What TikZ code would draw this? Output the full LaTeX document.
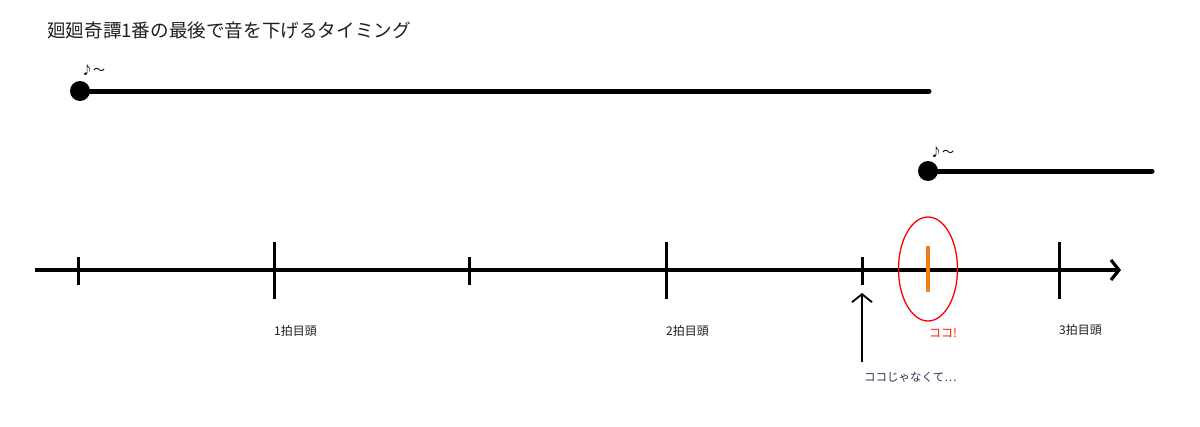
\documentclass[tikz,border=0pt]{standalone}
\usepackage{fontspec}
\newfontfamily\jp{Noto Sans CJK JP}
\usetikzlibrary{arrows.meta,shapes.geometric}
\definecolor{orangetick}{RGB}{240,125,30}
\definecolor{txt}{RGB}{30,30,30}
\definecolor{bluish}{RGB}{45,55,85}
\tikzset{
  phrase/.style={line width=5pt, line cap=round},
  dot/.style={circle, fill=black, inner sep=0pt, minimum size=20pt},
  smalltick/.style={line width=3pt},
  bigtick/.style={line width=3pt},
  lbl/.style={font=\jp\fontsize{12pt}{14pt}\selectfont, text=txt, inner sep=0pt, anchor=west},
  note/.style={font=\jp\fontsize{12pt}{14pt}\selectfont, inner sep=0pt, anchor=west}
}
\begin{document}
\begin{tikzpicture}[x=1pt,y=-1pt]
\useasboundingbox (0,0) rectangle (1200,426);
% title
\node[font=\jp\fontsize{18.6pt}{22pt}\selectfont, text=txt, inner sep=0pt, anchor=west] (title) at (47,30) {廻廻奇譚1番の最後で音を下げるタイミング};
% phrase 1
\node[dot] (d1) at (80,91) {};
\coordinate (e1) at (929,91);
\draw[phrase] (d1.center) -- (e1);
\node[note] (n1) at (81,70) {♪～};
% phrase 2
\node[dot] (d2) at (928,171) {};
\coordinate (e2) at (1152,171);
\draw[phrase] (d2.center) -- (e2);
\node[note] (n2) at (930,152) {♪～};
% axis
\coordinate (a0) at (35,270);
\coordinate (a1) at (1121,270);
\draw[line width=3.2pt, -{Straight Barb[length=8pt,width=20pt,line width=3.2pt]}] (a0) -- (a1);
% ticks
\foreach \x in {78,469,862} \draw[smalltick] (\x,257) -- (\x,285);
\foreach \x in {274,666,1059} \draw[bigtick] (\x,242) -- (\x,299);
\draw[line width=3.2pt, orangetick] (928,246) -- (928,292);
\node[draw=red, line width=1.3pt, ellipse, minimum width=59pt, minimum height=104pt, inner sep=0pt] (circ) at (928,269) {};
% labels
\node[lbl] (b1) at (274,331) {1拍目頭};
\node[lbl] (b2) at (666,331) {2拍目頭};
\node[lbl] (b3) at (1059,330) {3拍目頭};
\node[lbl, text=red!80!orange] (koko) at (929,333) {ココ!};
% arrow up
\coordinate (up0) at (862,362);
\coordinate (up1) at (862,293);
\draw[line width=1.8pt, -{Straight Barb[length=8pt,width=20pt,line width=1.8pt]}] (up0) -- (up1);
\node[lbl, text=bluish, font=\jp\fontsize{11.5pt}{14pt}\selectfont] (notthis) at (864,377) {ココじゃなくて…};
\end{tikzpicture}
\end{document}
